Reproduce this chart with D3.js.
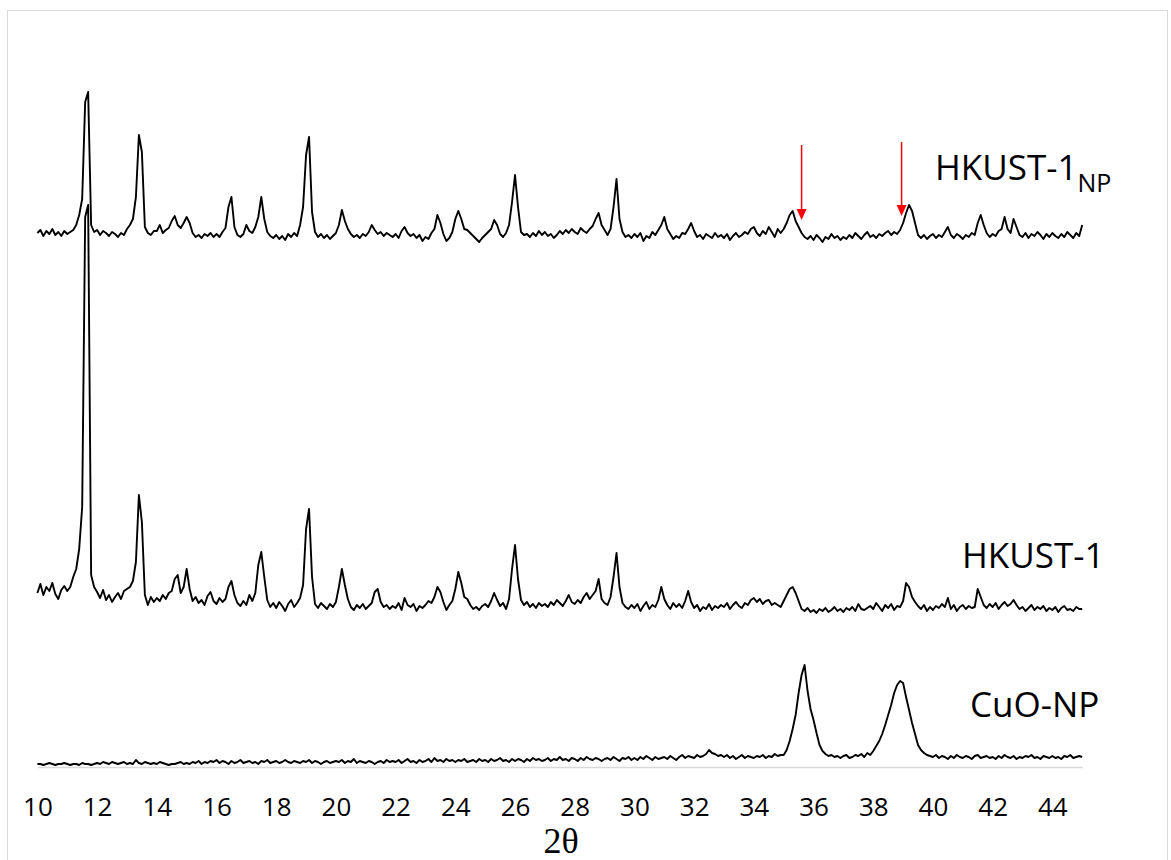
<!DOCTYPE html>
<html>
<head>
<meta charset="utf-8">
<script src="https://cdn.jsdelivr.net/npm/d3@7"></script>
<style>
  body { margin: 0; background: #fff; }
</style>
</head>
<body>
<div id="chart"></div>
<script>
// scan: 2theta from 10 to 45 deg, 0.1 deg per point
const scanStart = 10, scanStep = 0.1;

// intensities (a.u.), one row per degree
const hkustNP = [
  14, 17, 11, 16, 13, 18, 12, 15, 11, 16,
  13, 15, 17, 22, 32, 48, 145, 155, 22, 15,
  17, 12, 16, 14, 11, 15, 13, 10, 14, 12,
  18, 22, 28, 50, 112, 95, 20, 14, 12, 16,
  16, 22, 14, 17, 19, 26, 31, 22, 19, 24,
  30, 24, 14, 10, 12, 9, 13, 11, 14, 10,
  13, 10, 15, 19, 40, 50, 20, 12, 10, 13,
  22, 16, 14, 20, 30, 50, 28, 15, 11, 9,
  12, 8, 11, 7, 13, 10, 14, 11, 22, 40,
  92, 110, 35, 15, 10, 13, 9, 12, 8, 11,
  14, 22, 37, 26, 18, 13, 10, 12, 9, 13,
  11, 15, 22, 17, 13, 15, 11, 14, 12, 10,
  13, 9, 16, 20, 14, 11, 13, 9, 12, 6,
  10, 8, 14, 18, 32, 24, 13, 6, 9, 15,
  28, 36, 28, 18, 17, 14, 11, 8, 5, 9,
  12, 15, 18, 27, 22, 13, 10, 14, 22, 45,
  72, 40, 15, 12, 13, 10, 14, 11, 16, 12,
  15, 11, 13, 9, 12, 16, 13, 17, 14, 18,
  15, 13, 19, 16, 14, 18, 21, 28, 34, 22,
  17, 12, 18, 40, 68, 28, 15, 10, 12, 9,
  13, 10, 14, 6, 11, 9, 15, 12, 17, 22,
  30, 18, 13, 8, 11, 9, 14, 13, 18, 24,
  16, 10, 12, 8, 13, 11, 9, 14, 10, 12,
  9, 13, 7, 11, 14, 10, 12, 15, 13, 18,
  20, 14, 11, 16, 13, 20, 15, 10, 18, 14,
  18, 24, 32, 36, 26, 20, 14, 10, 8, 11,
  7, 12, 9, 5, 10, 8, 13, 9, 11, 7,
  10, 8, 12, 9, 14, 11, 8, 12, 15, 10,
  12, 9, 13, 11, 14, 16, 12, 15, 13, 17,
  24, 34, 42, 36, 24, 12, 9, 12, 8, 11,
  13, 9, 12, 10, 15, 20, 12, 9, 13, 11,
  8, 12, 10, 14, 12, 24, 32, 22, 14, 10,
  13, 11, 16, 18, 30, 18, 14, 28, 20, 12,
  10, 14, 9, 13, 11, 15, 12, 8, 13, 10,
  14, 11, 9, 13, 10, 15, 12, 9, 14, 11,
  22
];

const hkust = [
  24, 33, 22, 30, 26, 34, 23, 18, 27, 31,
  26, 30, 40, 48, 68, 110, 400, 412, 42, 30,
  25, 19, 27, 17, 22, 15, 20, 24, 18, 26,
  28, 30, 36, 55, 122, 95, 22, 12, 20, 15,
  19, 16, 22, 18, 24, 26, 38, 42, 24, 30,
  48, 28, 16, 20, 14, 17, 12, 21, 25, 16,
  13, 19, 15, 18, 30, 36, 22, 14, 11, 16,
  12, 22, 16, 24, 52, 65, 40, 17, 10, 14,
  9, 15, 11, 6, 13, 17, 10, 14, 19, 32,
  88, 108, 40, 13, 9, 14, 11, 8, 13, 10,
  15, 30, 48, 32, 18, 10, 7, 12, 9, 13,
  8, 11, 14, 25, 28, 15, 10, 12, 8, 11,
  9, 14, 7, 19, 12, 10, 13, 6, 11, 9,
  12, 16, 14, 20, 30, 25, 15, 7, 12, 16,
  28, 45, 34, 20, 18, 12, 8, 10, 7, 11,
  13, 10, 16, 24, 17, 11, 14, 8, 18, 48,
  72, 38, 17, 12, 15, 10, 13, 9, 14, 11,
  13, 10, 15, 12, 17, 14, 11, 16, 22, 15,
  13, 17, 14, 20, 24, 18, 22, 26, 38, 18,
  14, 12, 20, 40, 64, 30, 14, 10, 8, 12,
  9, 13, 6, 11, 15, 8, 12, 10, 17, 30,
  18, 12, 8, 14, 10, 13, 9, 16, 26, 15,
  9, 12, 6, 10, 8, 13, 7, 11, 9, 12,
  10, 14, 8, 12, 15, 11, 9, 14, 12, 17,
  19, 15, 18, 13, 16, 17, 12, 14, 12, 10,
  16, 22, 28, 30, 24, 16, 8, 6, 9, 5,
  7, 4, 8, 6, 9, 5, 7, 10, 6, 8,
  5, 9, 7, 10, 6, 13, 8, 7, 9, 11,
  8, 14, 10, 6, 12, 9, 13, 7, 11, 10,
  16, 34, 30, 20, 15, 11, 8, 12, 6, 10,
  7, 11, 9, 13, 10, 19, 8, 12, 6, 10,
  12, 8, 11, 9, 10, 28, 20, 12, 9, 13,
  10, 14, 8, 12, 15, 11, 13, 17, 12, 8,
  10, 6, 9, 12, 7, 10, 8, 11, 6, 9,
  7, 10, 5, 9, 11, 7, 8, 6, 10, 8,
  8
];

const cuoNP = [
  3, 3, 2, 3, 4, 3, 2, 3, 3, 4,
  3, 2, 3, 3, 2, 4, 3, 3, 2, 3,
  4, 3, 5, 4, 3, 5, 4, 3, 4, 5,
  3, 4, 3, 7, 4, 3, 5, 4, 3, 4,
  3, 5, 4, 3, 2, 3, 3, 4, 5, 3,
  4, 3, 5, 4, 6, 3, 5, 4, 6, 5,
  7, 4, 6, 5, 3, 6, 4, 5, 7, 4,
  5, 6, 4, 5, 3, 6, 5, 7, 4, 5,
  6, 4, 5, 7, 5, 4, 6, 5, 4, 6,
  5, 7, 4, 6, 5, 3, 5, 6, 4, 5,
  6, 5, 7, 4, 6, 5, 8, 4, 6, 5,
  4, 6, 5, 3, 5, 6, 4, 7, 5, 6,
  5, 7, 4, 6, 8, 5, 6, 4, 7, 5,
  6, 8, 5, 9, 6, 7, 5, 8, 6, 7,
  5, 7, 6, 8, 5, 6, 7, 5, 8, 6,
  7, 5, 8, 6, 7, 9, 6, 7, 5, 8,
  6, 8, 7, 5, 8, 6, 9, 7, 8, 6,
  7, 9, 6, 8, 7, 10, 7, 8, 6, 9,
  8, 6, 9, 7, 10, 8, 7, 9, 8, 6,
  8, 9, 7, 10, 8, 6, 9, 8, 10, 7,
  9, 7, 10, 8, 11, 9, 7, 10, 8, 9,
  10, 8, 11, 9, 7, 10, 12, 9, 11, 10,
  9, 12, 10, 11, 13, 17, 14, 13, 11, 12,
  10, 12, 9, 11, 8, 10, 12, 9, 11, 10,
  9, 11, 10, 12, 9, 11, 10, 13, 11, 12,
  12, 17, 26, 38, 52, 74, 92, 102, 76, 58,
  47, 34, 22, 16, 13, 11, 12, 10, 11, 9,
  11, 12, 9, 10, 12, 11, 13, 10, 14, 12,
  16, 21, 26, 33, 42, 52, 62, 74, 82, 86,
  84, 70, 57, 44, 33, 22, 17, 14, 12, 11,
  10, 12, 9, 11, 10, 8, 11, 9, 12, 10,
  9, 11, 10, 8, 11, 12, 9, 10, 11, 9,
  10, 8, 11, 9, 12, 10, 9, 11, 8, 10,
  9, 11, 10, 12, 9, 10, 8, 11, 10, 9,
  11, 9, 10, 8, 11, 10, 12, 9, 10, 11,
  10
];

// stacking offsets of the patterns (a.u.)
const seriesData = [cuoNP, hkust, hkustNP];
const seriesOffsets = [0, 150, 520];

const xTicks = [10, 12, 14, 16, 18, 20, 22, 24, 26, 28, 30, 32, 34, 36, 38, 40, 42, 44];

// red arrows over the HKUST-1NP pattern (2theta, top and tip in a.u. above its offset)
const arrowX = [35.6, 38.95];
const arrowTop = [102, 105];
const arrowTip = [27, 31];

const width = 1171, height = 860;
const svg = d3.select('#chart').append('svg')
    .attr('width', width)
    .attr('height', height)
    .style('display', 'block');

svg.append('rect')
    .attr('x', 7.5).attr('y', 10.5)
    .attr('width', 1160).attr('height', 880)
    .attr('fill', '#fff')
    .attr('stroke', '#d9d9d9')
    .attr('stroke-width', 1);

let x = d3.scaleLinear().domain([10, 45]).range([37.4, 1082.2]);
let y = d3.scaleLinear().domain([0, 700]).range([767, 67]);

// x axis: light grey base line, labels only
const xAxis = d3.axisBottom(x)
    .tickValues(xTicks)
    .tickSize(0)
    .tickPadding(30.5)
    .tickFormat(d3.format('d'));

svg.append('g')
    .attr('transform', 'translate(0,' + y(0) + ')')
    .call(xAxis)
    .call(g => g.select('.domain').attr('stroke', '#d9d9d9').attr('stroke-width', 1.5))
    .call(g => g.selectAll('text')
        .attr('fill', '#000')
        .attr('font-family', '"Open Sans", sans-serif')
        .attr('font-size', 26));

svg.append('text')
    .attr('x', 561)
    .attr('y', 853)
    .attr('text-anchor', 'middle')
    .attr('font-family', '"Liberation Serif", serif')
    .attr('font-size', 36)
    .text('2θ');

// patterns
seriesData.forEach(function (values, k) {
    const off = seriesOffsets[k];
    const line = d3.line()
        .x((d, i) => x(scanStart + i * scanStep))
        .y(d => y(d + off));
    svg.append('path')
        .datum(values)
        .attr('fill', 'none')
        .attr('stroke', '#000')
        .attr('stroke-width', 1.9)
        .attr('stroke-linejoin', 'round')
        .attr('d', line);
});

// arrows
const npOff = seriesOffsets[2];
arrowX.forEach(function (ax, i) {
    const px = x(ax), top = y(arrowTop[i] + npOff), tip = y(arrowTip[i] + npOff);
    svg.append('line')
        .attr('x1', px).attr('x2', px)
        .attr('y1', top).attr('y2', tip - 8)
        .attr('stroke', '#ff0000')
        .attr('stroke-width', 1.5);
    svg.append('path')
        .attr('d', 'M' + (px - 5) + ',' + (tip - 11) + 'L' + (px + 5) + ',' + (tip - 11) + 'L' + px + ',' + tip + 'Z')
        .attr('fill', '#ff0000');
});

// pattern labels
const labelFont = '"Open Sans", sans-serif';
const lab1 = svg.append('text')
    .attr('x', 935).attr('y', 180)
    .attr('font-family', labelFont)
    .attr('font-size', 35);
lab1.append('tspan').text('HKUST-1');
lab1.append('tspan').attr('dy', 12).attr('font-size', 25).text('NP');

svg.append('text')
    .attr('x', 962).attr('y', 568)
    .attr('font-family', labelFont)
    .attr('font-size', 35)
    .text('HKUST-1');

svg.append('text')
    .attr('x', 970).attr('y', 717)
    .attr('font-family', labelFont)
    .attr('font-size', 35)
    .text('CuO-NP');
</script>
</body>
</html>
